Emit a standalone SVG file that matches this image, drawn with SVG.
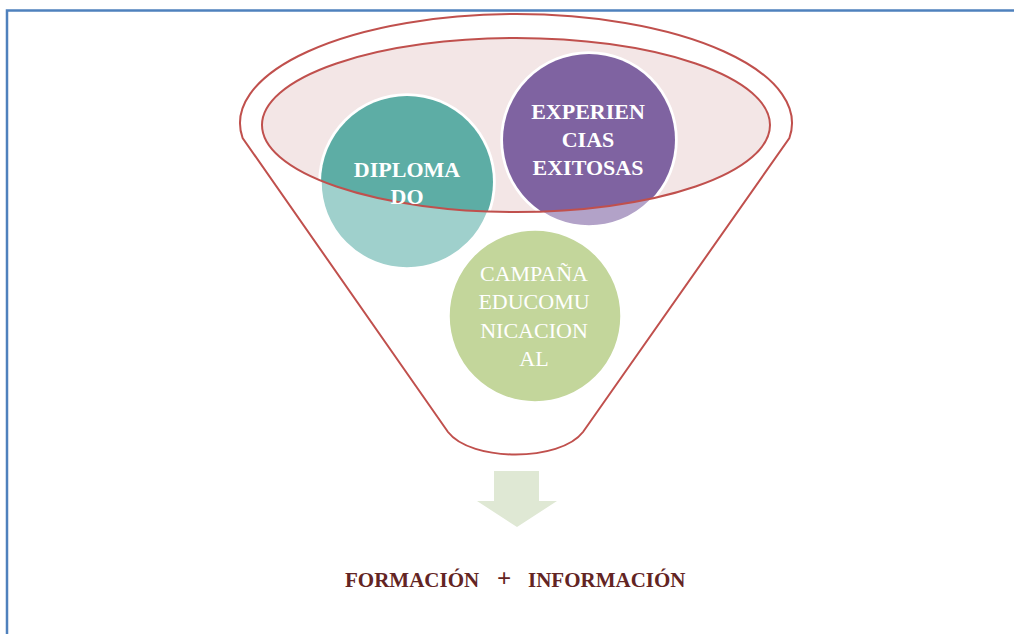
<svg xmlns="http://www.w3.org/2000/svg" width="1014" height="634" viewBox="0 0 1014 634">
<style>
.red{fill:none;stroke:#c0504d;stroke-width:2}
.lbl{font-family:"Liberation Serif","DejaVu Serif",serif;font-size:22px;fill:#ffffff;text-anchor:middle}
.b{font-weight:bold}
.ring{stroke:#ffffff;stroke-width:3.5}
.res{font-family:"Liberation Serif","DejaVu Serif",serif;font-weight:bold;fill:#632423}
</style>
<defs>
<clipPath id="inner"><ellipse cx="516" cy="125" rx="254" ry="87"/></clipPath>
<clipPath id="doclip"><rect x="300" y="0" width="400" height="204"/></clipPath>
</defs>
<rect x="0" y="0" width="1014" height="634" fill="#ffffff"/>
<path d="M7,634 V10.5 H1014" fill="none" stroke="#4f81bd" stroke-width="2.5"/>
<g id="funnel">
<path class="red" d="M242.6,138 A276,109 0 1 1 789.4,138 L583,432 C560,462 471,462 448,432 Z"/>
<ellipse cx="516" cy="125" rx="254" ry="87" fill="#f3e6e6"/>
</g>
<g id="diplomado">
<circle cx="407" cy="182" r="87" fill="#9fd0cc" class="ring"/>
<circle cx="407" cy="182" r="86" fill="#5dada5" clip-path="url(#inner)"/>
</g>
<g id="experiencias">
<circle cx="589" cy="140" r="87" fill="#b2a2c8" class="ring"/>
<circle cx="589" cy="140" r="86" fill="#7f63a1" clip-path="url(#inner)"/>
</g>
<g id="campana">
<circle cx="535" cy="316" r="87" fill="#c3d69b" class="ring"/>
</g>
<ellipse cx="516" cy="125" rx="254" ry="87" class="red"/>
<g id="labels">
<text class="lbl b" x="407" y="177">DIPLOMA</text>
<text class="lbl b" x="407" y="204" clip-path="url(#doclip)">DO</text>
<text class="lbl b" x="588" y="119">EXPERIEN</text>
<text class="lbl b" x="588" y="147">CIAS</text>
<text class="lbl b" x="588" y="175">EXITOSAS</text>
<text class="lbl" x="534" y="281">CAMPAÑA</text>
<text class="lbl" x="534" y="309">EDUCOMU</text>
<text class="lbl" x="534" y="338">NICACION</text>
<text class="lbl" x="534" y="366">AL</text>
</g>
<g id="connectors">
<path d="M494,471 H539 V501 H557 L517,527 L477,501 H494 Z" fill="#dfe8d4"/>
</g>
<g id="result">
<text class="res" x="345" y="587" font-size="21">FORMACIÓN</text>
<text class="res" x="504" y="587" font-size="25" text-anchor="middle">+</text>
<text class="res" x="528" y="587" font-size="21">INFORMACIÓN</text>
</g>
</svg>
